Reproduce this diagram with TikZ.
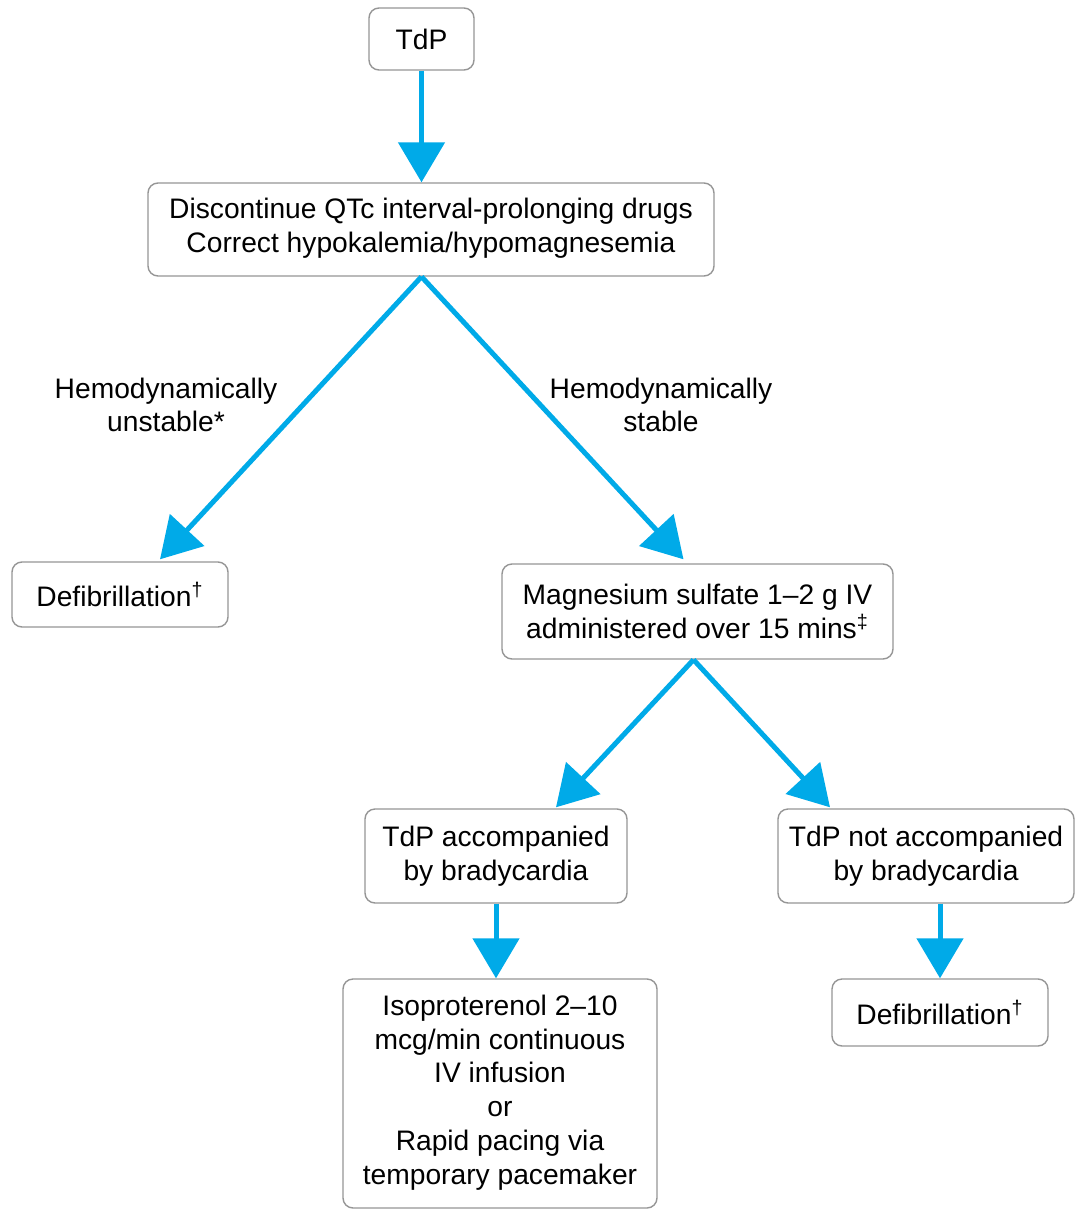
\documentclass[tikz,border=0pt]{standalone}
\usepackage{fontspec}
\setmainfont{Liberation Sans}
\usetikzlibrary{arrows.meta,calc}
\definecolor{arrowblue}{RGB}{0,170,232}
\definecolor{boxgray}{RGB}{150,150,150}
\begin{document}
\begin{tikzpicture}[x=0.5pt,y=-0.5pt,
  box/.style={draw=boxgray,line width=0.7pt,rounded corners=5pt,fill=white,align=center,
    inner sep=0pt,font=\fontsize{14.1}{16.9}\selectfont},
  lbl/.style={align=center,font=\fontsize{14.1}{16.6}\selectfont},
  arr/.style={draw=arrowblue,line width=2.5pt,-{Triangle[width=23pt,length=20pt]},color=arrowblue}]
\useasboundingbox[fill=white] (0,0) rectangle (1078,1210);
\node[box,minimum width=52.5pt,minimum height=31pt] (tdp) at (421.5,39) {TdP};
\node[box,minimum width=283pt,minimum height=46.5pt,text depth=4pt] (disc) at (431,229.5)
  {Discontinue QTc interval-prolonging drugs\\Correct hypokalemia/hypomagnesemia};
\node[box,minimum width=108pt,minimum height=32.5pt] (defl) at (120,594.5) {Defibrillation\textsuperscript{†}};
\node[box,minimum width=195.5pt,minimum height=47.5pt] (mg) at (697.5,611.5)
  {Magnesium sulfate 1–2 g IV\\administered over 15 mins\textsuperscript{‡}};
\node[box,minimum width=131pt,minimum height=47pt] (acc) at (496,856) {TdP accompanied\\by bradycardia};
\node[box,minimum width=148pt,minimum height=47pt] (nacc) at (926,856) {TdP not accompanied\\by bradycardia};
\node[box,minimum width=108pt,minimum height=33.5pt] (defr) at (940,1012.5) {Defibrillation\textsuperscript{†}};
\node[box,minimum width=157pt,minimum height=114.5pt,text depth=4pt] (iso) at (500,1093.5)
  {Isoproterenol 2–10\\mcg/min continuous\\IV infusion\\or\\Rapid pacing via\\temporary pacemaker};
\node[lbl] (lu) at (166,405) {Hemodynamically\\unstable*};
\node[lbl] (ls) at (661,405) {Hemodynamically\\stable};
\coordinate (dsplit) at (tdp.south |- disc.south);
\draw[arr] (tdp.south) -- (tdp.south |- disc.north);
\draw[arr] (dsplit) -- ($(defl.north)+(40,-2)$);
\draw[arr] (dsplit) -- ($(mg.north)+(-14,-4)$);
\draw[arr] ($(mg.south)+(-4,0)$) -- ($(acc.north)+(60,-1)$);
\draw[arr] ($(mg.south)+(-4,0)$) -- ($(nacc.north)+(-96,-1)$);
\draw[arr] (acc.south) -- (acc.south |- iso.north);
\draw[arr] (nacc.south -| defr.north) -- (defr.north);
\end{tikzpicture}
\end{document}
